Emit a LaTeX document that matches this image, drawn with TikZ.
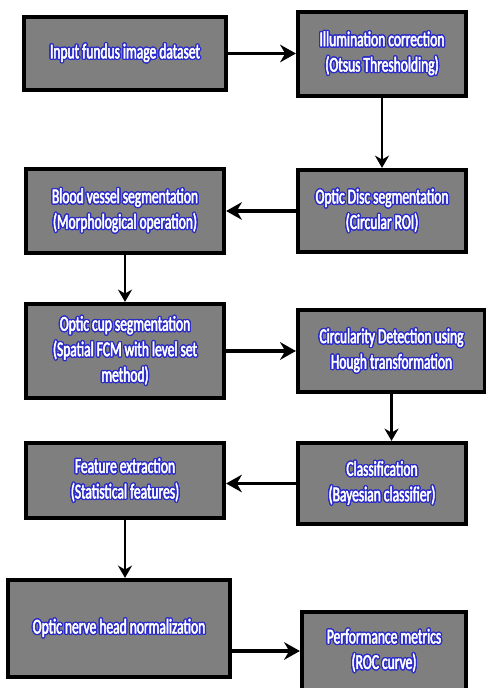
\documentclass[tikz,border=0pt]{standalone}
\usepackage{fontspec}
\newfontfamily\boxfont[FakeStretch=0.64,FakeBold=2.5]{Carlito}
\usepackage{xcolor}
\usepackage{contour}
\contourlength{0.75pt}
\usepackage{tikz}
\usetikzlibrary{arrows.meta,positioning}

\definecolor{boxgray}{HTML}{7F7F7F}
\definecolor{glowblue}{HTML}{2B2BC8}
\newcommand{\glow}[1]{\contour{glowblue}{#1}}

\begin{document}
\begin{tikzpicture}[x=0.02cm,y=-0.02cm,
          stage/.style={draw=black,line width=2.4pt,fill=boxgray,inner sep=0pt,align=center,
                        text=white,font=\boxfont\fontsize{12}{14.5}\selectfont},
          flow/.style={line width=2pt,-{Stealth[length=9pt,width=10pt]}},
          down/.style={line width=1.4pt,-{Stealth[length=7pt,width=8pt]}}]
        \useasboundingbox (0,0) rectangle (485,688);
        % stages
        \node[stage,minimum width=4.04cm,minimum height=1.46cm] (inp)    at (125,53.5)  {\glow{Input fundus image dataset}};
        \node[stage,minimum width=3.36cm,minimum height=1.68cm] (illum)  at (382,54)    {\glow{Illumination correction}\\\glow{(Otsus Thresholding)}};
        \node[stage,minimum width=3.36cm,minimum height=1.64cm] (disc)   at (382,211)   {\glow{Optic Disc segmentation}\\\glow{(Circular ROI)}};
        \node[stage,minimum width=3.96cm,minimum height=1.68cm] (vessel) at (125,211)   {\glow{Blood vessel segmentation}\\\glow{(Morphological operation)}};
        \node[stage,minimum width=3.96cm,minimum height=1.88cm] (cup)    at (125,351)   {\glow{Optic cup segmentation}\\\glow{(Spatial FCM with level set}\\\glow{method)}};
        \node[stage,minimum width=3.74cm,minimum height=1.64cm] (circ)   at (391.5,351) {\glow{Circularity Detection using}\\\glow{Hough transformation}};
        \node[stage,minimum width=3.36cm,minimum height=1.62cm] (cls)    at (382,483.5) {\glow{Classification}\\\glow{(Bayesian classifier)}};
        \node[stage,minimum width=3.96cm,minimum height=1.50cm] (feat)   at (125,480.5) {\glow{Feature extraction}\\\glow{(Statistical features)}};
        \node[stage,minimum width=4.44cm,minimum height=1.94cm] (onh)    at (119,628.5) {\glow{Optic nerve head normalization}};
        \node[stage,minimum width=3.28cm,minimum height=1.56cm] (perf)   at (384,651)   {\glow{Performance metrics}\\\glow{(ROC curve)}};
        % connectors
        \draw[flow] (inp.east) -- (inp.east -| illum.west);
        \draw[down] (illum.south) -- (illum.south |- disc.north);
        \draw[flow] (disc.west) -- (disc.west -| vessel.east);
        \draw[down] (vessel.south) -- (vessel.south |- cup.north);
        \draw[flow] (cup.east) -- (cup.east -| circ.west);
        \draw[down] (circ.south) -- (circ.south |- cls.north);
        \draw[flow] (cls.west) -- (cls.west -| feat.east);
        \draw[down] (feat.south) -- (feat.south |- onh.north);
        \draw[flow] (perf.west -| onh.east) -- (perf.west);
      \end{tikzpicture}
\end{document}
